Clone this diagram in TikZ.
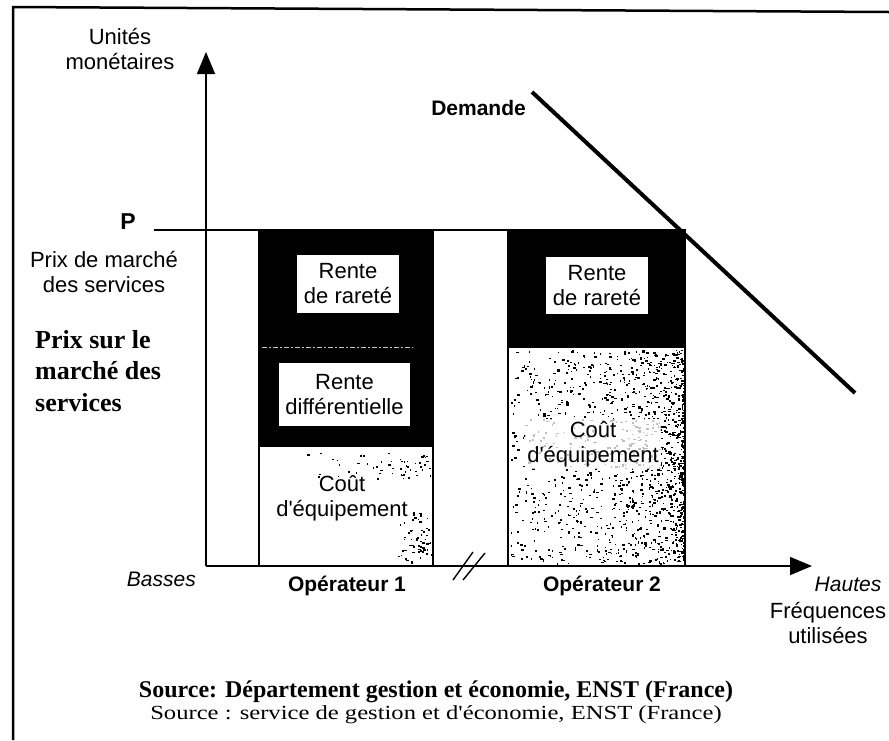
\documentclass[tikz,border=0pt]{standalone}
\usepackage{fontspec}
\setmainfont{Liberation Serif}[Ligatures=TeXOff]
\setsansfont{Liberation Sans}[Ligatures=TeXOff]
\usetikzlibrary{arrows.meta}
\begin{document}
\begin{tikzpicture}[x=1pt,y=-1pt,
  lab/.style={font=\sffamily\fontsize{22}{25}\selectfont, align=center, inner sep=0pt},
  blab/.style={font=\sffamily\bfseries\fontsize{21}{25}\selectfont, align=center, inner sep=0pt},
  ilab/.style={font=\sffamily\itshape\fontsize{21}{25}\selectfont, inner sep=0pt},
  whitebox/.style={lab, fill=white, draw=none},
  axisline/.style={line width=1.6pt, -{Triangle[length=22pt,width=18pt]}},
  barline/.style={line width=1.5pt},
  speck/.style={fill=black}]
\useasboundingbox (0,0) rectangle (889,740);
\fill[white] (0,0) rectangle (889,740);
% frame
\draw[line width=2.5pt] (889,12) -- (13,7) -- (13,740);

% bars: operator 1
\fill[black] (259,230) rectangle (433,447);
\draw[barline] (259,230) rectangle (433,566);
\draw[gray!45, line width=1pt, dash pattern=on 5pt off 2pt on 2pt off 2pt] (262,347) -- (413,347);
% operator 2
\fill[black] (508,230) rectangle (685,348);
\draw[barline] (508,230) rectangle (685,566);

% speckles operator 2
\pgfmathsetseed{7}
\foreach \i in {1,...,1300}{
  \pgfmathsetmacro\xx{510+173*(1-rnd^1.9)}
  \pgfmathsetmacro\yy{350+213*rnd}
  \pgfmathsetmacro\ww{0.8+2.2*rnd}
  \pgfmathsetmacro\hh{0.8+1.6*rnd}
  \fill[speck] (\xx,\yy) rectangle ++(\ww,\hh);
}
% speckles operator 1
\foreach \i in {1,...,55}{
  \pgfmathsetmacro\xx{300+130*rnd^0.4}
  \pgfmathsetmacro\yy{452+26*rnd}
  \pgfmathsetmacro\ww{0.8+2*rnd}
  \pgfmathsetmacro\hh{0.8+1.4*rnd}
  \fill[speck] (\xx,\yy) rectangle ++(\ww,\hh);
}
\foreach \i in {1,...,60}{
  \pgfmathsetmacro\xx{393+38*rnd^0.6}
  \pgfmathsetmacro\yy{512+50*rnd}
  \pgfmathsetmacro\ww{0.8+2*rnd}
  \pgfmathsetmacro\hh{0.8+1.4*rnd}
  \fill[speck] (\xx,\yy) rectangle ++(\ww,\hh);
}

% axes
\coordinate (O) at (206,566);
\coordinate (Ytop) at (206,52);
\coordinate (Xend) at (812,566);
\coordinate (Pstart) at (154,230);
\coordinate (Pend) at (685,230);
\draw[axisline] (O) -- (Ytop);
\draw[axisline] (O) -- (Xend);
\draw[line width=1.5pt] (Pstart) -- (Pend);

% break marks
\draw[line width=1.4pt] (453,580) -- (473,552);
\draw[line width=1.4pt] (463,580) -- (485,553);

% demand
\coordinate (D1) at (532,92);
\coordinate (D2) at (855,393);
\draw[line width=4pt] (D1) -- (D2);

% boxes
\node[whitebox, minimum width=102pt, minimum height=58pt] (r1) at (348,284) {Rente\\de raret\'e};
\node[whitebox, minimum width=131pt, minimum height=63pt] (rd) at (344.5,394.5) {Rente\\diff\'erentielle};
\node[whitebox, minimum width=102pt, minimum height=57pt] (r2) at (597,285.5) {Rente\\de raret\'e};
\node[lab] (c1) at (342,498) {Co\^ut\\d'\'equipement};
\node[lab, fill=white, fill opacity=0.75, text opacity=1, inner sep=2pt] (c2) at (593,444) {Co\^ut\\d'\'equipement};

% labels
\node[lab] (um) at (120,49) {Unit\'es\\mon\'etaires};
\node[blab, font=\sffamily\bfseries\fontsize{23}{25}\selectfont] (P) at (128,222) {P};
\node[lab] (pm) at (104,272) {Prix de march\'e\\des services};
\node[font=\bfseries\fontsize{26}{31.5}\selectfont, align=left, inner sep=0pt, anchor=north west] (ps) at (35,330) {Prix sur le\\march\'e des\\services};
\node[blab, anchor=east] (dem) at (526,108) {Demande};
\node[ilab, anchor=base east] (bas) at (196,586) {Basses};
\node[blab, anchor=base] (op1) at (347,591) {Op\'erateur 1};
\node[blab, anchor=base] (op2) at (602,591) {Op\'erateur 2};
\node[ilab, anchor=base] (hau) at (848,591) {Hautes};
\node[lab] (fu) at (828,623) {Fr\'equences\\utilis\'ees};

% source
\node[font=\bfseries\fontsize{24}{28}\selectfont, inner sep=0pt, anchor=base] (s1) at (436,697) {Source: D\'epartement gestion et \'economie, ENST (France)};
\node[font=\fontsize{20}{24}\selectfont, inner sep=0pt, anchor=base] (s2) at (436,719) {\scalebox{1.23}[1]{Source : service de gestion et d'\'economie, ENST (France)}};
\end{tikzpicture}
\end{document}
